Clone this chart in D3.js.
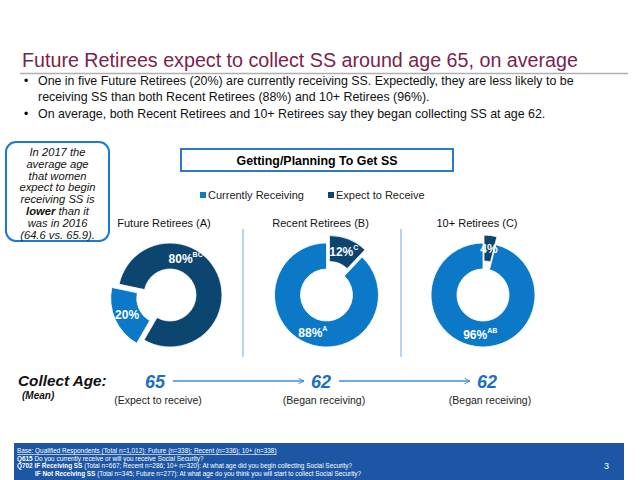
<!DOCTYPE html>
<html><head><meta charset="utf-8">
<script src="https://cdn.jsdelivr.net/npm/d3@7/dist/d3.min.js"></script>
<style>
html,body{margin:0;padding:0;background:#fff;}
svg{display:block;font-family:"Liberation Sans",Arial,sans-serif;}
</style></head>
<body><svg id="c" width="640" height="480"></svg>
<script>
// ---- data ----
const title = "Future Retirees expect to collect SS around age 65, on average";
const bullets = [
  ["One in five Future Retirees (20%) are currently receiving SS. Expectedly, they are less likely to be",
   "receiving SS than both Recent Retirees (88%) and 10+ Retirees (96%)."],
  ["On average, both Recent Retirees and 10+ Retirees say they began collecting SS at age 62."]
];
const calloutLines = ["In 2017 the","average age","that women","expect to begin","receiving SS is","|lower| than it","was in 2016","(64.6 vs. 65.9)."];
const chartTitle = "Getting/Planning To Get SS";
const seriesNames = ["Currently Receiving", "Expect to Receive"];
const groups = ["Future Retirees (A)", "Recent Retirees (B)", "10+ Retirees (C)"];
const currentlyReceiving = [20, 88, 96];
const expectToReceive = [80, 12, 4];
const currentSig = ["", "A", "AB"];
const expectSig = ["BC", "C", ""];
const collectAge = [65, 62, 62];
const collectAgeLabels = ["(Expect to receive)", "(Began receiving)", "(Began receiving)"];
const footerLines = [
  {b:"", t:"Base: Qualified Respondents (Total n=1,012): Future (n=338); Recent (n=336); 10+ (n=338)", u:true, x:0},
  {b:"Q615", t:"  Do you currently receive or will you receive Social Security?", x:0},
  {b:"Q702  IF Receiving SS", t:" (Total n=667; Recent n=286; 10+ n=320): At what age did you begin collecting Social Security?", x:0},
  {b:"IF Not Receiving SS", t:" (Total n=345; Future n=277):  At what age do you think you will start to collect Social Security?", x:18}
];
const pageNumber = "3";

// ---- style/layout ----
const colLight = "#0b78c8", colDark = "#0c4670";
const colors = [colLight, colDark];
const startDeg = [210, 43.2, 14.4];
const bigLabelDeg = [23, 200, 184];

const svg = d3.select("#c");

// title
svg.append("text").attr("x", 22).attr("y", 67).attr("font-size", 19.7)
  .attr("fill", "#7b1f4e").text(title);
svg.append("line").attr("x1", 20).attr("x2", 628).attr("y1", 73.5).attr("y2", 73.5)
  .attr("stroke", "#b0b0b0").attr("stroke-width", 1.5);

// bullets
let by = 85;
bullets.forEach(lines => {
  svg.append("text").attr("x", 24).attr("y", by).attr("font-size", 12).text("•");
  lines.forEach(l => {
    svg.append("text").attr("x", 38).attr("y", by).attr("font-size", 12.4).attr("fill", "#111").text(l);
    by += 16.3;
  });
});

// callout
svg.append("rect").attr("x", 6).attr("y", 142).attr("width", 103).attr("height", 99)
  .attr("rx", 10).attr("fill", "#fff").attr("stroke", "#1a7ad4").attr("stroke-width", 2);
calloutLines.forEach((l, i) => {
  const t = svg.append("text").attr("x", 57.5).attr("y", 156 + i * 11.8)
    .attr("text-anchor", "middle").attr("font-size", 11.2).attr("font-style", "italic").attr("fill", "#111");
  const parts = l.split("|");
  parts.forEach((p, j) => { if (p) t.append("tspan").attr("font-weight", j % 2 ? "bold" : "normal").text(p); });
});

// chart title box
svg.append("rect").attr("x", 181).attr("y", 149).attr("width", 272).attr("height", 22)
  .attr("fill", "#fff").attr("stroke", "#2f78c4").attr("stroke-width", 2);
svg.append("text").attr("x", 317).attr("y", 164.5).attr("text-anchor", "middle")
  .attr("font-size", 12.4).attr("font-weight", "bold").text(chartTitle);

// legend
const legX = [200, 328];
seriesNames.forEach((s, i) => {
  svg.append("rect").attr("x", legX[i]).attr("y", 192).attr("width", 6).attr("height", 6).attr("fill", colors[i]);
  svg.append("text").attr("x", legX[i] + 8).attr("y", 199).attr("font-size", 11).attr("fill", "#222").text(s);
});

// donuts
const x = d3.scalePoint().domain(groups).range([170, 483]);
const cy = 295, R = 52, r0 = 26, explode = 8;
const arc = d3.arc().innerRadius(r0).outerRadius(R);
const toRad = d => d * Math.PI / 180;

groups.forEach((g, gi) => {
  const cx = x(g);
  const data = [
    {name: seriesNames[0], value: currentlyReceiving[gi], sig: currentSig[gi], col: colors[0]},
    {name: seriesNames[1], value: expectToReceive[gi], sig: expectSig[gi], col: colors[1]}
  ];
  const s = toRad(startDeg[gi]);
  const pie = d3.pie().sort(null).value(d => d.value).startAngle(s).endAngle(s + 2 * Math.PI);
  const arcs = pie(data);
  const minV = d3.min(data, d => d.value);
  const gg = svg.append("g").attr("transform", `translate(${cx},${cy})`);
  svg.append("text").attr("x", cx - 6).attr("y", 227).attr("text-anchor", "middle")
    .attr("font-size", 11).attr("fill", "#111").text(g);
  arcs.forEach(a => {
    const mid = (a.startAngle + a.endAngle) / 2;
    const isSmall = a.data.value === minV;
    const off = isSmall ? explode : 0;
    const dx = Math.sin(mid) * off, dy = -Math.cos(mid) * off;
    gg.append("path").attr("d", arc(a)).attr("fill", a.data.col)
      .attr("stroke", "#fff").attr("stroke-width", 0.8)
      .attr("transform", `translate(${dx},${dy})`);
    let lx, ly;
    if (isSmall) {
      const c = arc.centroid(a); lx = c[0] + dx; ly = c[1] + dy;
    } else {
      const ang = toRad(bigLabelDeg[gi]); lx = Math.sin(ang) * 40; ly = -Math.cos(ang) * 40;
    }
    const t = gg.append("text").attr("x", lx).attr("y", ly + 4.5).attr("text-anchor", "middle")
      .attr("font-size", 12).attr("font-weight", "bold").attr("fill", "#fff");
    t.append("tspan").text(a.data.value + "%");
    if (a.data.sig) t.append("tspan").attr("dy", -6).attr("font-size", 7).text(a.data.sig);
  });
});

// dividers
[243, 401].forEach(dx => {
  svg.append("line").attr("x1", dx).attr("x2", dx).attr("y1", 229).attr("y2", 357)
    .attr("stroke", "#8db8e2").attr("stroke-width", 1.2);
});

// collect age row
svg.append("text").attr("x", 18).attr("y", 386).attr("font-size", 15.3).attr("font-weight", "bold")
  .attr("font-style", "italic").attr("fill", "#111").text("Collect Age:");
svg.append("text").attr("x", 22).attr("y", 399).attr("font-size", 10).attr("font-weight", "bold")
  .attr("font-style", "italic").attr("fill", "#111").text("(Mean)");
const xa = d3.scalePoint().domain(groups).range([155, 487]);
svg.append("defs").append("marker").attr("id", "arr").attr("viewBox", "0 0 10 10")
  .attr("refX", 9).attr("refY", 5).attr("markerWidth", 7).attr("markerHeight", 7)
  .attr("markerUnits", "userSpaceOnUse").attr("orient", "auto")
  .append("path").attr("d", "M1,1 L9,5 L1,9").attr("fill", "none").attr("stroke", "#3c8ddb").attr("stroke-width", 1.4);
groups.forEach((g, i) => {
  svg.append("text").attr("x", xa(g)).attr("y", 388).attr("text-anchor", "middle")
    .attr("font-size", 18).attr("font-weight", "bold").attr("font-style", "italic")
    .attr("fill", "#1a6fc4").text(collectAge[i]);
  svg.append("text").attr("x", xa(g) + 3).attr("y", 404).attr("text-anchor", "middle")
    .attr("font-size", 10.5).attr("fill", "#222").text(collectAgeLabels[i]);
  if (i < groups.length - 1) {
    svg.append("line").attr("x1", xa(g) + 18).attr("x2", xa(groups[i + 1]) - 17)
      .attr("y1", 381).attr("y2", 381).attr("stroke", "#3c8ddb").attr("stroke-width", 1.3)
      .attr("marker-end", "url(#arr)");
  }
});

// footer
svg.append("rect").attr("x", 14).attr("y", 443).attr("width", 610).attr("height", 37).attr("fill", "#1d56a4");
footerLines.forEach((f, i) => {
  const t = svg.append("text").attr("x", 17 + f.x).attr("y", 453.3 + i * 7.4).attr("font-size", 6.4).attr("fill", "#fff");
  if (f.b) t.append("tspan").attr("font-weight", "bold").text(f.b);
  const tt = t.append("tspan").text(f.t);
  if (f.u) tt.attr("text-decoration", "underline");
});
svg.append("text").attr("x", 604).attr("y", 469).attr("font-size", 9).attr("fill", "#fff").text(pageNumber);
</script></body></html>
